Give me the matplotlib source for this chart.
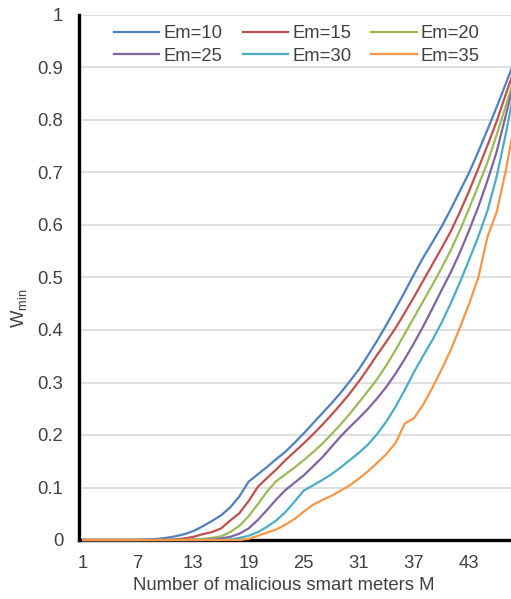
import numpy as np
import matplotlib
matplotlib.use("Agg")
import matplotlib.pyplot as plt

plt.rcParams['font.family'] = ['Liberation Sans', 'DejaVu Sans']
plt.rcParams['mathtext.default'] = 'regular'

# number of malicious smart meters
meters = np.arange(1, 49)

em10 = [0, 0, 0, 0, 0, 0, 0, 0.001, 0.002, 0.004, 0.007, 0.011, 0.017, 0.026, 0.036, 0.047,
        0.062, 0.083, 0.111, 0.125, 0.139, 0.154, 0.168, 0.185, 0.203, 0.222, 0.241, 0.260,
        0.280, 0.302, 0.325, 0.352, 0.380, 0.410, 0.441, 0.473, 0.506, 0.538, 0.567, 0.597,
        0.630, 0.665, 0.700, 0.740, 0.782, 0.825, 0.870, 0.915]
em15 = [0, 0, 0, 0, 0, 0, 0, 0, 0, 0, 0.001, 0.003, 0.006, 0.011, 0.015, 0.022,
        0.037, 0.051, 0.074, 0.101, 0.118, 0.134, 0.152, 0.168, 0.184, 0.201, 0.219, 0.238,
        0.258, 0.279, 0.302, 0.327, 0.353, 0.378, 0.404, 0.433, 0.463, 0.494, 0.525, 0.556,
        0.588, 0.625, 0.665, 0.708, 0.752, 0.798, 0.850, 0.900]
em20 = [0, 0, 0, 0, 0, 0, 0, 0, 0, 0, 0, 0, 0.001, 0.002, 0.004, 0.007,
        0.015, 0.027, 0.045, 0.068, 0.092, 0.112, 0.125, 0.138, 0.152, 0.167, 0.183, 0.201,
        0.220, 0.240, 0.262, 0.284, 0.307, 0.333, 0.362, 0.393, 0.424, 0.455, 0.486, 0.518,
        0.552, 0.590, 0.632, 0.675, 0.720, 0.772, 0.828, 0.885]
em25 = [0, 0, 0, 0, 0, 0, 0, 0, 0, 0, 0, 0, 0, 0, 0.001, 0.003,
        0.006, 0.012, 0.022, 0.038, 0.057, 0.077, 0.095, 0.109, 0.123, 0.140, 0.157, 0.177,
        0.197, 0.215, 0.232, 0.250, 0.270, 0.292, 0.317, 0.345, 0.375, 0.407, 0.441, 0.476,
        0.510, 0.548, 0.590, 0.635, 0.685, 0.740, 0.810, 0.880]
em30 = [0, 0, 0, 0, 0, 0, 0, 0, 0, 0, 0, 0, 0, 0, 0, 0,
        0.001, 0.004, 0.008, 0.015, 0.025, 0.037, 0.053, 0.073, 0.094, 0.104, 0.114, 0.125,
        0.138, 0.152, 0.166, 0.182, 0.202, 0.226, 0.254, 0.286, 0.320, 0.351, 0.381, 0.414,
        0.451, 0.491, 0.534, 0.578, 0.628, 0.693, 0.775, 0.865]
em35 = [0, 0, 0, 0, 0, 0, 0, 0, 0, 0, 0, 0, 0, 0, 0, 0,
        0, 0, 0.002, 0.008, 0.014, 0.020, 0.029, 0.040, 0.054, 0.067, 0.076, 0.084,
        0.094, 0.104, 0.117, 0.131, 0.147, 0.164, 0.185, 0.222, 0.232, 0.258, 0.290, 0.325,
        0.362, 0.405, 0.450, 0.500, 0.578, 0.625, 0.705, 0.800]

series = [em10, em15, em20, em25, em30, em35]
labels = ['Em=10', 'Em=15', 'Em=20', 'Em=25', 'Em=30', 'Em=35']
colors = ['#4F81BD', '#C0504D', '#9BBB59', '#8064A2', '#4BACC6', '#F79646']

xticks = [1, 7, 13, 19, 25, 31, 37, 43]
yticks = np.round(np.arange(0, 1.01, 0.1), 1)
ytick_labels = ['0'] + [f'{v:g}' for v in yticks[1:-1]] + ['1']

text_color = '#404040'
fs = 13.3

fig = plt.figure(figsize=(5.11, 5.99), dpi=100)
ax = fig.add_axes([78.5 / 511, 1 - 540 / 599, (511 - 78.5) / 511, 525 / 599])

handles = []
for vals, lab, col in zip(series, labels, colors):
    h, = ax.plot(meters, vals, color=col, lw=1.6, label=lab, zorder=3, clip_on=False)
    handles.append(h)

ax.set_xlim(0.5, 47.55)
ax.set_ylim(0, 1)
ax.set_xticks(xticks)
ax.set_yticks(yticks)
ax.set_yticklabels(ytick_labels)
ax.tick_params(length=0, labelsize=fs, colors=text_color)
ax.tick_params(axis='y', pad=11)
ax.tick_params(axis='x', pad=11)

ax.grid(axis='y', color='#D9D9D9', lw=1.2)
ax.set_axisbelow(True)
for side in ['top', 'right']:
    ax.spines[side].set_visible(False)
for side in ['left', 'bottom']:
    ax.spines[side].set_linewidth(2.4)
    ax.spines[side].set_color('black')
    ax.spines[side].set_zorder(2.5)

fig.text(284 / 511, 1 - 585 / 599, 'Number of malicious smart meters M',
         ha='center', va='center', fontsize=fs, color=text_color)
fig.text(19 / 511, 1 - 308 / 599, '$W_{min}$', rotation=90,
         ha='center', va='center', fontsize=fs, color=text_color)

# legend filled row by row: 3 columns, 2 rows
order = [0, 3, 1, 4, 2, 5]
fig.legend([handles[i] for i in order], [labels[i] for i in order],
           loc='center', bbox_to_anchor=(297 / 511, 1 - 45 / 599), ncol=3,
           frameon=False, fontsize=fs, handlelength=2.45, handletextpad=0.22,
           columnspacing=1.1, labelspacing=0.3, labelcolor=text_color)

fig.savefig('out.png', dpi=100)
